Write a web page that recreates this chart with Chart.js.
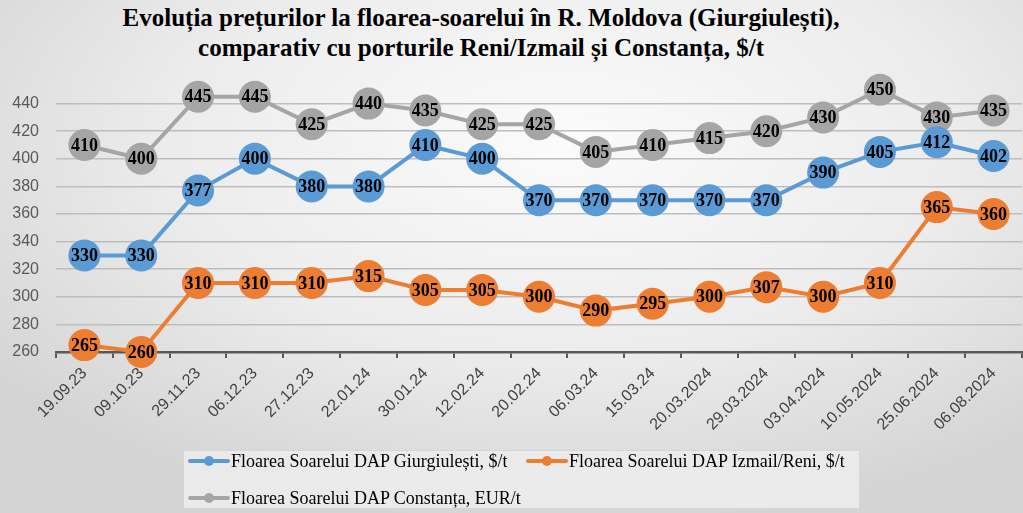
<!DOCTYPE html>
<html>
<head>
<meta charset="utf-8">
<script src="https://cdn.jsdelivr.net/npm/chart.js@4/dist/chart.umd.min.js"></script>
<style>
  html, body { margin: 0; padding: 0; }
  body {
    width: 1023px; height: 513px; overflow: hidden; position: relative;
    background: radial-gradient(ellipse 70% 75% at 55% 28%, #fbfbfb 0%, #ececec 55%, #d4d4d4 100%);
  }
  #title {
    position: absolute; left: 0; top: 3px; width: 962px; text-align: center;
    font-family: "Liberation Serif", "Times New Roman", serif; font-weight: bold;
    font-size: 25px; line-height: 30px; color: #000;
  }
  /* canvas runs a little past the right edge: the rotated last label reserves space there */
  #chart { position: absolute; left: 0; top: 0; }
  #legend {
    position: absolute; left: 183px; top: 450px; width: 677px; height: 59px;
    background: rgba(236,236,236,0.9); border: 1px solid #d6d6d6; box-sizing: border-box;
    font-family: "Liberation Serif", "Times New Roman", serif; font-size: 18px; color: #000;
  }
  .item { position: absolute; white-space: nowrap; display: flex; align-items: center; height: 20px; }
  .mark { position: relative; width: 42px; height: 10px; margin-right: 1px; }
  .mark .ln { position: absolute; left: 0; right: 0; top: 3px; height: 4px; border-radius: 2px; }
  .mark .dot { position: absolute; left: 16px; top: 0; width: 10px; height: 10px; border-radius: 50%; }
</style>
</head>
<body>
<div id="title">Evoluția prețurilor la floarea-soarelui în R. Moldova (Giurgiulești),<br>comparativ cu porturile Reni/Izmail și Constanța, $/t</div>
<canvas id="chart" width="1038" height="513"></canvas>
<div id="legend"></div>
<script>
const dates = ['19.09.23', '09.10.23', '29.11.23', '06.12.23', '27.12.23', '22.01.24', '30.01.24', '12.02.24',
  '20.02.24', '06.03.24', '15.03.24', '20.03.2024', '29.03.2024', '03.04.2024', '10.05.2024', '25.06.2024', '06.08.2024'];
const giurgiulesti = [330, 330, 377, 400, 380, 380, 410, 400, 370, 370, 370, 370, 370, 390, 405, 412, 402];
const izmailReni = [265, 260, 310, 310, 310, 315, 305, 305, 300, 290, 295, 300, 307, 300, 310, 365, 360];
const constanta = [410, 400, 445, 445, 425, 440, 435, 425, 425, 405, 410, 415, 420, 430, 450, 430, 435];
const seriesNames = ['Floarea Soarelui DAP Giurgiulești, $/t', 'Floarea Soarelui DAP Izmail/Reni, $/t',
  'Floarea Soarelui DAP Constanța, EUR/t'];
const colors = ['#5b9bd5', '#ed7d31', '#a5a5a5'];

function series(label, data, color) {
  return {
    label, data,
    borderColor: color, backgroundColor: color,
    borderWidth: 4, pointRadius: 16, pointHoverRadius: 16,
    pointBorderWidth: 0, tension: 0, clip: false
  };
}

// value labels centred on each point
const pointLabels = {
  id: 'pointLabels',
  afterDatasetsDraw(chart) {
    const ctx = chart.ctx;
    ctx.save();
    ctx.font = 'bold 18px "Liberation Serif", "Times New Roman", serif';
    ctx.fillStyle = '#000';
    ctx.textAlign = 'center';
    ctx.textBaseline = 'middle';
    chart.data.datasets.forEach((ds, i) => {
      chart.getDatasetMeta(i).data.forEach((pt, j) => {
        ctx.fillText(ds.data[j], pt.x, pt.y + 1);
      });
    });
    ctx.restore();
  }
};

const chart = new Chart(document.getElementById('chart'), {
  type: 'line',
  data: {
    labels: dates,
    datasets: [
      series(seriesNames[0], giurgiulesti, colors[0]),
      series(seriesNames[1], izmailReni, colors[1]),
      series(seriesNames[2], constanta, colors[2])
    ]
  },
  options: {
    responsive: false,
    maintainAspectRatio: false,
    animation: false,
    devicePixelRatio: 1,
    layout: { padding: { top: 76, right: 0, bottom: 71, left: 0 } },
    plugins: { legend: { display: false }, title: { display: false }, tooltip: { enabled: false } },
    scales: {
      x: {
        offset: true,
        grid: { offset: true, drawOnChartArea: false, drawTicks: true, tickLength: 6, color: '#595959', lineWidth: 2 },
        border: { color: '#595959', width: 2.5 },
        ticks: {
          maxRotation: 45, minRotation: 45, autoSkip: false, padding: 6,
          color: '#404040', font: { family: '"Liberation Sans", Arial, sans-serif', size: 16 }
        },
        afterFit(scale) { scale.height = 90; }
      },
      y: {
        min: 260, max: 460,
        grid: { color: '#bdbdbd', lineWidth: 1.5, drawTicks: false },
        border: { display: false },
        ticks: {
          stepSize: 20, padding: 17, color: '#595959',
          font: { family: '"Liberation Sans", Arial, sans-serif', size: 16 }
        },
        afterBuildTicks(scale) { scale.ticks = scale.ticks.filter(t => t.value <= 440); },
        afterFit(scale) { scale.width = 56; }
      }
    }
  },
  plugins: [pointLabels]
});

// html legend from the chart's own legend items
const legendBox = document.getElementById('legend');
const positions = [[4, 10], [342, 10], [4, 47]];
chart.options.plugins.legend.labels.generateLabels(chart).forEach((item, i) => {
  const el = document.createElement('div');
  el.className = 'item';
  el.style.left = positions[i][0] + 'px';
  el.style.top = (positions[i][1] - 10) + 'px';
  el.innerHTML = '<span class="mark"><span class="ln" style="background:' + item.strokeStyle +
    '"></span><span class="dot" style="background:' + item.strokeStyle + '"></span></span>' + item.text;
  legendBox.appendChild(el);
});
</script>
</body>
</html>
